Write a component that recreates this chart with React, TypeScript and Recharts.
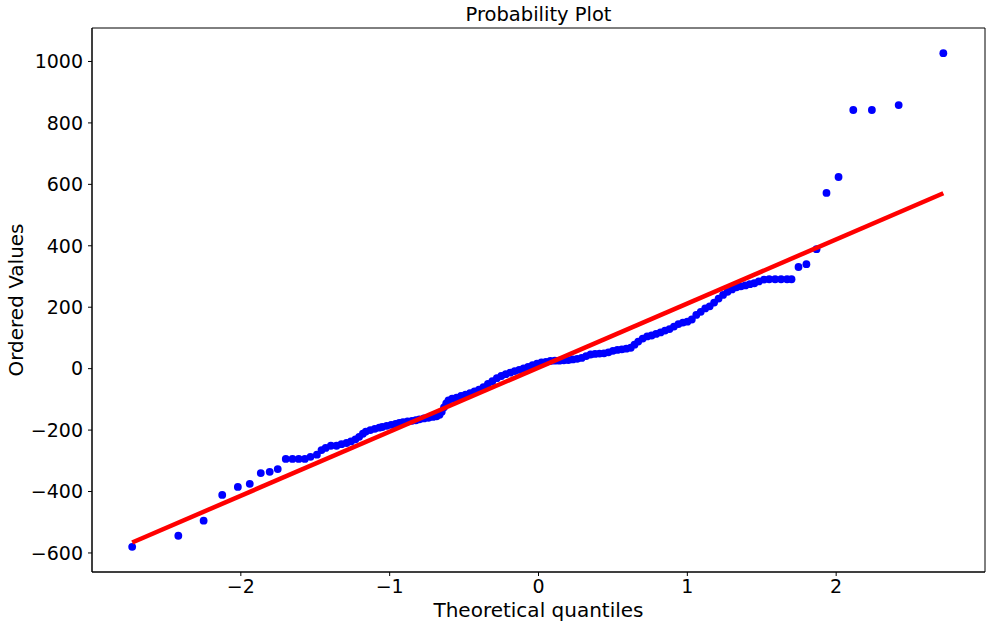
import React from 'react';
import { ScatterChart, Scatter, XAxis, YAxis, ReferenceArea } from 'recharts';

// theoretical quantiles (x) and ordered values (y)
const theoreticalQuantiles = [
  -2.73, -2.42, -2.25, -2.125, -2.02, -1.94, -1.866, -1.806, -1.752, -1.698,
  -1.653, -1.611, -1.57, -1.532, -1.489, -1.458, -1.43, -1.395, -1.357, -1.324,
  -1.29, -1.26, -1.23, -1.205, -1.18, -1.16, -1.13, -1.1, -1.07, -1.05,
  -1.02, -0.99, -0.96, -0.935, -0.91, -0.88, -0.85, -0.824, -0.8, -0.77,
  -0.74, -0.71, -0.685, -0.665, -0.65, -0.635, -0.62, -0.605, -0.58, -0.55,
  -0.52, -0.49, -0.46, -0.43, -0.4, -0.37, -0.34, -0.31, -0.28, -0.25,
  -0.22, -0.19, -0.16, -0.13, -0.1, -0.07, -0.04, -0.01, 0.02, 0.05,
  0.08, 0.11, 0.14, 0.17, 0.2, 0.23, 0.26, 0.29, 0.32, 0.35,
  0.38, 0.41, 0.44, 0.47, 0.5, 0.53, 0.56, 0.59, 0.62, 0.645,
  0.67, 0.7, 0.73, 0.76, 0.79, 0.82, 0.85, 0.88, 0.91, 0.94,
  0.97, 1.0, 1.03, 1.06, 1.09, 1.12, 1.15, 1.18, 1.21, 1.24,
  1.27, 1.3, 1.33, 1.36, 1.39, 1.42, 1.45, 1.48, 1.515, 1.55,
  1.59, 1.63, 1.67, 1.7, 1.747, 1.8, 1.868, 1.935, 2.016, 2.115,
  2.24, 2.42, 2.72,
];

const orderedValues = [
  -580, -544, -495, -411, -385, -375, -340, -336, -327, -294,
  -294, -294, -294, -287, -280, -265, -258, -251, -251, -246,
  -242, -237, -230, -222, -212, -205, -200, -196, -192, -190,
  -186, -183, -180, -177, -174, -172, -170, -168, -165, -162,
  -160, -157, -155, -150, -140, -126, -113, -103, -98, -94,
  -89, -85, -80, -74, -68, -60, -50, -41, -31, -24,
  -18, -13, -8, -4, 1, 6, 11, 16, 20, 22,
  25, 26, 26, 27, 28, 30, 32, 35, 41, 46,
  48, 49, 50, 53, 58, 61, 63, 65, 68, 78,
  88, 98, 105, 108, 113, 118, 124, 129, 137, 145,
  150, 153, 160, 175, 185, 196, 203, 215, 228, 240,
  250, 258, 265, 268, 271, 275, 278, 284, 290, 291,
  291, 291, 291, 291, 331, 340, 389, 572, 624, 842,
  842, 858, 1027,
];

// least-squares fit line end points
const fitX = [-2.73, 2.72];
const fitY = [-566, 571];

const xTicks = [-2, -1, 0, 1, 2];
const yTicks = [-600, -400, -200, 0, 200, 400, 600, 800, 1000];

const points = theoreticalQuantiles.map((x, i) => ({ x, y: orderedValues[i] }));
const fitLine = fitX.map((x, i) => ({ x, y: fitY[i] }));

const fmt = (v: number) => String(v).replace('-', '\u2212');

const BlueDot = (props: any) => (
  <circle cx={props.cx} cy={props.cy} r={3.9} fill="#0000ff" />
);
const NoDot = () => <g />;

export default function App() {
  return (
    <div
      style={{
        position: 'relative',
        width: 992,
        height: 628,
        background: '#fff',
        fontFamily: '"DejaVu Sans", sans-serif',
        color: '#000',
      }}
    >
      <style>{'body{margin:0}'}</style>
      <ScatterChart width={992} height={628} margin={{ top: 28, right: 7, bottom: 0, left: 0 }}>
        <XAxis
          type="number"
          dataKey="x"
          domain={[-3, 3]}
          ticks={xTicks}
          tickFormatter={fmt}
          height={56}
          tickSize={4}
          tickMargin={4}
          stroke="#000"
          tick={{ fill: '#000', fontSize: 19 }}
          allowDataOverflow
        />
        <YAxis
          type="number"
          dataKey="y"
          domain={[-662, 1109]}
          ticks={yTicks}
          tickFormatter={fmt}
          width={92}
          tickSize={4}
          tickMargin={5}
          stroke="#000"
          tick={{ fill: '#000', fontSize: 19 }}
          allowDataOverflow
        />
        <ReferenceArea x1={-3} x2={3} y1={-662} y2={1109} fill="none" stroke="#000" strokeWidth={1} />
        <Scatter data={points} shape={BlueDot} isAnimationActive={false} />
        <Scatter
          data={fitLine}
          shape={NoDot}
          line={{ stroke: '#ff0000', strokeWidth: 4.5 }}
          isAnimationActive={false}
        />
      </ScatterChart>
      <div
        style={{
          position: 'absolute',
          left: 92,
          width: 893,
          top: 4,
          textAlign: 'center',
          fontSize: 19.5,
          lineHeight: '22px',
        }}
      >
        Probability Plot
      </div>
      <div
        style={{
          position: 'absolute',
          left: 92,
          width: 893,
          top: 598,
          textAlign: 'center',
          fontSize: 20,
          lineHeight: '24px',
        }}
      >
        Theoretical quantiles
      </div>
      <div
        style={{
          position: 'absolute',
          left: 16,
          top: 300,
          transform: 'translate(-50%, -50%) rotate(-90deg)',
          whiteSpace: 'nowrap',
          fontSize: 20,
          lineHeight: '24px',
        }}
      >
        Ordered Values
      </div>
    </div>
  );
}
